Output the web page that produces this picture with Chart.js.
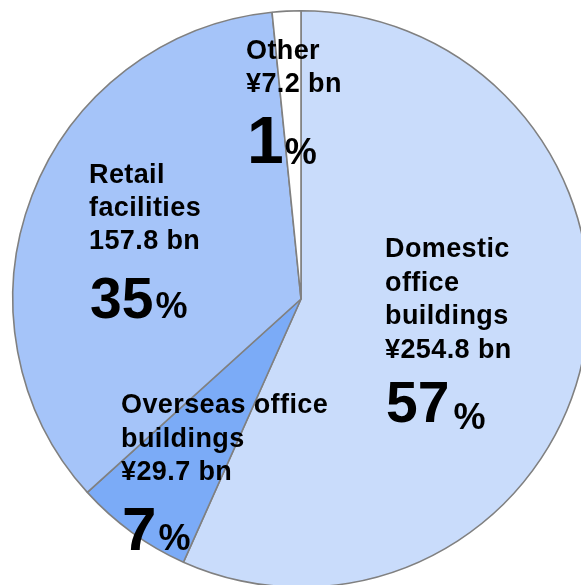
<!DOCTYPE html>
<html>
<head>
<meta charset="utf-8">
<script src="https://cdn.jsdelivr.net/npm/chart.js@4/dist/chart.umd.min.js"></script>
<style>
html,body{margin:0;padding:0;background:#fff;overflow:hidden;width:581px;height:585px;}
#wrap{position:absolute;left:0;top:0;width:602px;height:598px;}
</style>
</head>
<body>
<div id="wrap"><canvas id="c" width="602" height="598"></canvas></div>
<script>
const categories = ["Domestic office buildings", "Overseas office buildings", "Retail facilities", "Other"];
const values = [254.8, 29.7, 157.8, 7.2];
const percentLabels = ["57", "7", "35", "1"];
const textLines = [
  ["Domestic", "office", "buildings", "¥254.8 bn"],
  ["Overseas office", "buildings", "¥29.7 bn"],
  ["Retail", "facilities", "157.8 bn"],
  ["Other", "¥7.2 bn"]
];
const colors = ["#c9dcfb", "#7babf7", "#a5c4f9", "#ffffff"];

// label layout (offsets relative to pie center, px)
const labelLayout = [
  {dx: 84, dy: -42, lineH: 33.7, numDy: 64, numSize: 57, pctDy: 7, gap: 4},
  {dx: -180, dy: 114, lineH: 33.5, numDy: 70, numSize: 62, pctDy: 0, gap: 2},
  {dx: -212, dy: -116, lineH: 33, numDy: 69, numSize: 57, pctDy: 0, gap: 2},
  {dx: -55, dy: -240, lineH: 33, numDy: 71, numSize: 66, pctDy: 1, gap: 1}
];

const labelPlugin = {
  id: 'sliceLabels',
  afterDatasetsDraw(chart) {
    const ctx = chart.ctx;
    const meta = chart.getDatasetMeta(0);
    const arc = meta.data[0];
    const cx = arc.x, cy = arc.y;
    ctx.save();
    ctx.fillStyle = '#000';
    ctx.textBaseline = 'alphabetic';
    ctx.textAlign = 'left';
    textLines.forEach((lines, i) => {
      const L = labelLayout[i];
      const x = cx + L.dx;
      let y = cy + L.dy;
      ctx.font = 'bold 27px "Liberation Sans", Arial, sans-serif';
      ctx.letterSpacing = '0.4px';
      lines.forEach((t, k) => {
        ctx.fillText(t, x, y + k * L.lineH);
      });
      const ny = y + (lines.length - 1) * L.lineH + L.numDy;
      ctx.letterSpacing = '0px';
      ctx.font = 'bold ' + L.numSize + 'px "Liberation Sans", Arial, sans-serif';
      const nx = x + 1;
      ctx.fillText(percentLabels[i], nx, ny);
      const w = ctx.measureText(percentLabels[i]).width;
      ctx.font = 'bold 36px "Liberation Sans", Arial, sans-serif';
      ctx.fillText('%', nx + w + L.gap, ny + L.pctDy);
    });
    ctx.restore();
  }
};

new Chart(document.getElementById('c'), {
  type: 'pie',
  data: {
    labels: categories,
    datasets: [{
      data: values,
      backgroundColor: colors,
      borderColor: '#808080',
      borderWidth: 1.6
    }]
  },
  options: {
    responsive: false,
    animation: false,
    layout: {padding: 10},
    plugins: {legend: {display: false}, tooltip: {enabled: false}}
  },
  plugins: [labelPlugin]
});
</script>
</body>
</html>
